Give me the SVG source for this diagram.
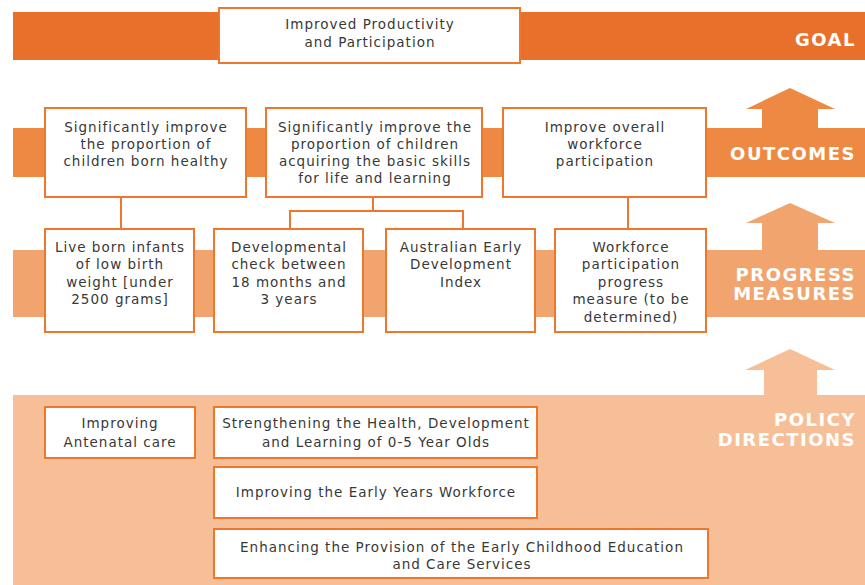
<svg xmlns="http://www.w3.org/2000/svg" width="865" height="585" viewBox="0 0 865 585">
<style>
.box{fill:#fff;stroke:#EE772C;stroke-width:2}
.t{font-family:"DejaVu Sans","Liberation Sans",sans-serif;font-size:13.5px;fill:#383838;text-anchor:middle;letter-spacing:1px}
.h{font-family:"DejaVu Sans","Liberation Sans",sans-serif;font-size:18px;font-weight:bold;fill:#fff;text-anchor:end;letter-spacing:1.5px}
.c{fill:none;stroke:#EE772C;stroke-width:2}
</style>
<rect width="865" height="585" fill="#fff"/>
<g id="bands">
<rect x="13" y="12" width="852" height="48" fill="#E8702A"/>
<rect x="13" y="128" width="852" height="49" fill="#EE8944"/>
<polygon points="762,128 762,109 746,109 790,88 835,109 818,109 818,128" fill="#EE8944"/>
<rect x="13" y="250" width="852" height="67" fill="#F1A46D"/>
<polygon points="762,250 762,223 746,223 790,203 835,223 818,223 818,250" fill="#F1A46D"/>
<rect x="13" y="395" width="852" height="190" fill="#F7BF98"/>
<polygon points="764,395 764,370 745,370 790,349 835,370 817,370 817,395" fill="#F7BF98"/>
<text class="h" x="856" y="46">GOAL</text>
<text class="h" x="856" y="160">OUTCOMES</text>
<text class="h" x="856" y="281">PROGRESS</text>
<text class="h" x="856" y="300">MEASURES</text>
<text class="h" x="856" y="426">POLICY</text>
<text class="h" x="856" y="446">DIRECTIONS</text>
</g>
<g id="connectors">
<path class="c" d="M121,197 V229"/>
<path class="c" d="M373,197 V211 M290,229 V211 H463 V229"/>
<path class="c" d="M628,197 V229"/>
</g>
<g id="goal">
<rect class="box" x="219" y="8" width="301" height="55"/>
<text class="t" x="370" y="29">Improved Productivity</text>
<text class="t" x="370" y="47">and Participation</text>
</g>
<g id="outcome1">
<rect class="box" x="45" y="108" width="201" height="89"/>
<text class="t" x="146" y="132">Significantly improve</text>
<text class="t" x="146" y="149">the proportion of</text>
<text class="t" x="146" y="166">children born healthy</text>
</g>
<g id="outcome2">
<rect class="box" x="266" y="108" width="216" height="89"/>
<text class="t" x="375" y="132">Significantly improve the</text>
<text class="t" x="375" y="149">proportion of children</text>
<text class="t" x="375" y="166">acquiring the basic skills</text>
<text class="t" x="375" y="183">for life and learning</text>
</g>
<g id="outcome3">
<rect class="box" x="503" y="108" width="203" height="89"/>
<text class="t" x="605" y="132">Improve overall</text>
<text class="t" x="605" y="149">workforce</text>
<text class="t" x="605" y="166">participation</text>
</g>
<g id="measure1">
<rect class="box" x="45" y="229" width="149" height="103"/>
<text class="t" x="120" y="252">Live born infants</text>
<text class="t" x="120" y="269">of low birth</text>
<text class="t" x="120" y="287">weight [under</text>
<text class="t" x="120" y="304">2500 grams]</text>
</g>
<g id="measure2">
<rect class="box" x="214" y="229" width="149" height="103"/>
<text class="t" x="289" y="252">Developmental</text>
<text class="t" x="289" y="269">check between</text>
<text class="t" x="289" y="287">18 months and</text>
<text class="t" x="289" y="304">3 years</text>
</g>
<g id="measure3">
<rect class="box" x="386" y="229" width="149" height="103"/>
<text class="t" x="461" y="252">Australian Early</text>
<text class="t" x="461" y="269">Development</text>
<text class="t" x="461" y="287">Index</text>
</g>
<g id="measure4">
<rect class="box" x="555" y="229" width="151" height="103"/>
<text class="t" x="631" y="252">Workforce</text>
<text class="t" x="631" y="269">participation</text>
<text class="t" x="631" y="287">progress</text>
<text class="t" x="631" y="304">measure (to be</text>
<text class="t" x="631" y="322">determined)</text>
</g>
<g id="policy1">
<rect class="box" x="45" y="407" width="150" height="51"/>
<text class="t" x="120" y="428">Improving</text>
<text class="t" x="120" y="447">Antenatal care</text>
</g>
<g id="policy2">
<rect class="box" x="214" y="407" width="323" height="51"/>
<text class="t" x="376" y="428">Strengthening the Health, Development</text>
<text class="t" x="376" y="447">and Learning of 0-5 Year Olds</text>
</g>
<g id="policy3">
<rect class="box" x="214" y="467" width="323" height="51"/>
<text class="t" x="376" y="497">Improving the Early Years Workforce</text>
</g>
<g id="policy4">
<rect class="box" x="214" y="529" width="494" height="49"/>
<text class="t" x="462" y="552">Enhancing the Provision of the Early Childhood Education</text>
<text class="t" x="462" y="569">and Care Services</text>
</g>
</svg>
